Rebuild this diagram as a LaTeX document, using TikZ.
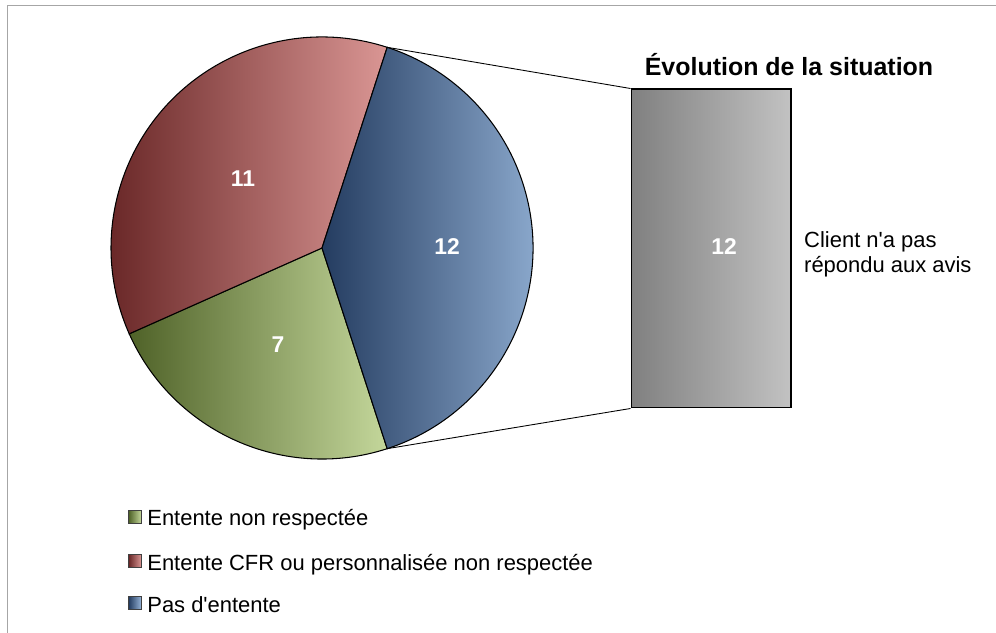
\documentclass[tikz,border=0pt]{standalone}
\usepackage{fontspec}
\setmainfont{Liberation Sans}
\usetikzlibrary{calc}

\definecolor{redD}{RGB}{104,38,38}
\definecolor{redL}{RGB}{218,150,148}
\definecolor{greenD}{RGB}{79,98,40}
\definecolor{greenL}{RGB}{196,215,155}
\definecolor{blueD}{RGB}{36,60,96}
\definecolor{blueL}{RGB}{149,179,215}
\definecolor{grayD}{RGB}{128,128,128}
\definecolor{grayL}{RGB}{194,194,194}

\begin{document}
\begin{tikzpicture}[x=0.02cm,y=0.02cm,
    slice/.style={draw=black,line width=0.6pt},
    num/.style={text=white,font=\fontsize{13}{15}\selectfont\bfseries},
    legbox/.style={draw=black!75,line width=0.4pt,inner sep=0,minimum size=0.25cm},
    legtxt/.style={anchor=base west,inner sep=0,font=\fontsize{12.5}{15}\selectfont}]
      \useasboundingbox (0,0) rectangle (996,632);
      % frame
      \draw[black!35] (7,-20) -- (7,627) -- (1020,627);
      % pie
      \coordinate (c) at (322,384);
      \coordinate (ptop) at ($(c)+(72:211)$);
      \coordinate (pbot) at ($(c)+(-72:211)$);
      \draw[slice,left color=greenD,right color=greenL] (c) -- (pbot) arc (-72:-156:211) -- cycle;
      \draw[slice,left color=redD,right color=redL] (c) -- (ptop) arc (72:204:211) -- cycle;
      \draw[slice,left color=blueD,right color=blueL] (c) -- (pbot) arc (-72:72:211) -- cycle;
      \node[num] (n11) at (243,453) {11};
      \node[num] (n12) at (447,385) {12};
      \node[num] (n7) at (278,287) {7};
      % bar on the right
      \node[draw,line width=0.6pt,inner sep=0,minimum width=3.2cm,minimum height=6.38cm,
        left color=grayD,right color=grayL] (bar) at (711,383.5) {};
      \node[num] (nbar) at (724,385) {12};
      \node[font=\fontsize{14.2}{17}\selectfont\bfseries] (title) at (789,567) {Évolution de la situation};
      \node[anchor=west,align=left,font=\fontsize{12.5}{14.2}\selectfont] (note) at (798,378)
        {Client n\textquotesingle a pas\\répondu aux avis};
      % leader lines
      \draw[line width=0.5pt] (ptop) -- (bar.north west);
      \draw[line width=0.5pt] (pbot) -- (bar.south west);
      % legend
      \node[legbox,left color=greenD,right color=greenL] (k1) at (135,115) {};
      \node[legtxt] (l1) at (147,107) {Entente non respectée};
      \node[legbox,left color=redD,right color=redL] (k2) at (135,71) {};
      \node[legtxt] (l2) at (147,62) {Entente CFR ou personnalisée non respectée};
      \node[legbox,left color=blueD,right color=blueL] (k3) at (135,29) {};
      \node[legtxt] (l3) at (147,20) {Pas d\textquotesingle entente};
    \end{tikzpicture}
\end{document}
